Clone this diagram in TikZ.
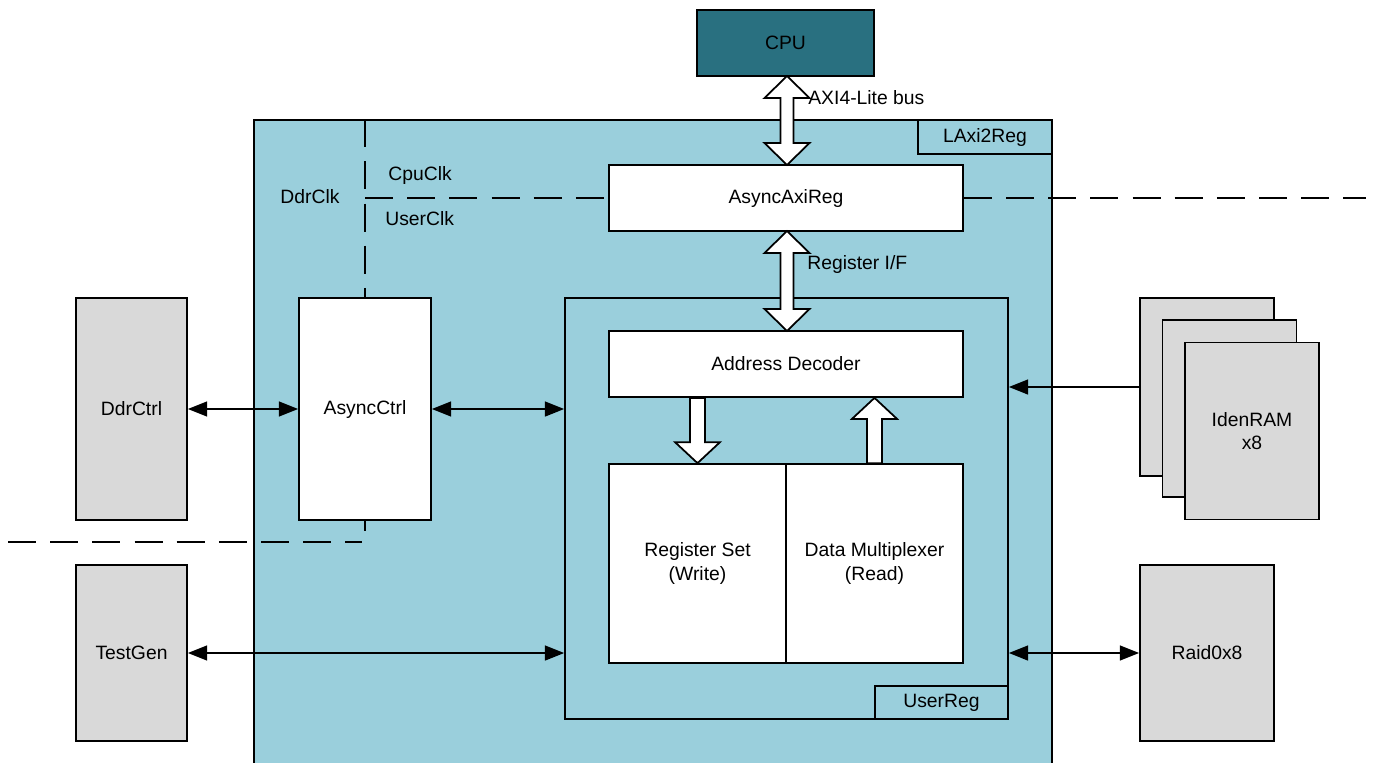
\documentclass[tikz,border=0pt]{standalone}
\usepackage{fontspec}
\setmainfont{Liberation Sans}
\usetikzlibrary{arrows.meta,calc}
\definecolor{laxiblue}{RGB}{154,207,220}
\definecolor{cputeal}{RGB}{41,112,128}
\definecolor{extgray}{RGB}{217,217,217}
\newcommand{\txt}{\fontsize{11}{13.5}\selectfont}
\newcommand{\busarrow}[2]{\draw[fat] (#1) -- ++(22.5,22) -- ++(-16,0) -- ($(#2)+(6.5,-22)$) -- ++(16,0) -- (#2) -- ++(-22.5,-22) -- ++(16,0) -- ($(#1)+(-6.5,22)$) -- ++(-16,0) -- cycle;}
\newcommand{\downfat}[2]{\draw[fat] ($(#1)+(-7.5,0)$) -- ++(15,0) -- ($(#2)+(7.5,-21)$) -- ++(15,0) -- (#2) -- ++(-22.5,-21) -- ++(15,0) -- cycle;}
\newcommand{\upfat}[2]{\draw[fat] ($(#1)+(-7.5,0)$) -- ++(15,0) -- ($(#2)+(7.5,21)$) -- ++(15,0) -- (#2) -- ++(-22.5,21) -- ++(15,0) -- cycle;}
\tikzset{
	box/.style={draw=black, line width=1pt, align=center, inner sep=0pt, font=\txt},
	sz/.style 2 args={minimum width=#1, minimum height=#2},
	wbox/.style={box, fill=white},
	gbox/.style={box, fill=extgray},
	bbox/.style={box, fill=laxiblue},
	lbl/.style={font=\txt, inner sep=0pt},
	link/.style={line width=1pt, >={Triangle[length=11pt,width=8.5pt]}},
	fat/.style={draw=black, line width=1pt, fill=white, line join=miter},
	clk/.style={line width=1pt, dash pattern=on 16pt off 8pt}
}

\begin{document}
\begin{tikzpicture}[x=0.02cm, y=-0.02cm]
			\useasboundingbox (0,0) rectangle (1374,762);
			\clip (0,0) rectangle (1374,762);
			
			\node[bbox, sz={15.96cm}{13.1cm}] (laxi) at (653,447.5) {};
			\node[bbox, sz={2.68cm}{0.68cm}] (laxilbl) at (985,137) {LAxi2Reg};
			\node[box, fill=cputeal, sz={3.54cm}{1.32cm}] (cpu) at (785.5,43) {CPU};
			\node[wbox, sz={7.08cm}{1.32cm}] (axireg) at (786,198) {AsyncAxiReg};
			
			\node[gbox, sz={2.22cm}{4.44cm}] (ddrctrl) at (131.5,409) {DdrCtrl};
			\node[gbox, sz={2.22cm}{3.52cm}] (testgen) at (131.5,653) {TestGen};
			\node[wbox, sz={2.64cm}{4.44cm}] (asyncctrl) at (365,409) {AsyncCtrl};
			
			\node[bbox, sz={8.86cm}{8.42cm}] (userreg) at (786.5,508.5) {};
			\node[bbox, sz={2.66cm}{0.66cm}] (userreglbl) at (941.5,702.5) {UserReg};
			\node[wbox, sz={7.08cm}{1.32cm}] (adec) at (786,364) {Address Decoder};
			\node[wbox, sz={3.54cm}{3.98cm}] (regset) at (697.5,563.5) {Register Set\\(Write)};
			\node[wbox, sz={3.54cm}{3.98cm}] (datamux) at (874.5,563.5) {Data Multiplexer\\(Read)};
			
			\node[gbox, sz={2.68cm}{3.56cm}] (idenback) at (1207,387) {};
			\node[gbox, sz={2.68cm}{3.54cm}] (idenmid) at (1229.5,408.5) {};
			\node[gbox, sz={2.68cm}{3.54cm}] (idenram) at (1252,431) {IdenRAM\\x8};
			\node[gbox, sz={2.68cm}{3.52cm}] (raid) at (1207,653) {Raid0x8};
			
			\node[lbl] (ddrclk) at (310,197) {DdrClk};
			\node[lbl, anchor=west] (cpuclk) at (388,175) {CpuClk};
			\node[lbl, anchor=west] (userclk) at (385,219) {UserClk};
			\node[lbl, anchor=west] (axilbl) at (808,98) {AXI4-Lite bus};
			\node[lbl, anchor=west] (reglbl) at (807,264) {Register I/F};
			
			\coordinate (clktop) at (asyncctrl.north |- laxi.north);
			\coordinate (clkcross) at (asyncctrl.north |- axireg.west);
			\coordinate (clkright) at (1366,198);
			\coordinate (clkbot) at (365,531);
			\coordinate (ddrleft) at (8,542);
			\coordinate (ddrright) at (362,542);
			\draw[clk] (clktop) -- (asyncctrl.north);
			\draw[clk] (asyncctrl.south) -- (clkbot);
			\draw[clk] (clkcross) -- (axireg.west);
			\draw[clk] (axireg.east) -- (clkright);
			\draw[clk] (ddrleft) -- (ddrright);
			
			\draw[link, <->] (ddrctrl.east) -- (asyncctrl.west);
			\draw[link, <->] (asyncctrl.east) -- (asyncctrl.east -| userreg.west);
			\draw[link, <->] (testgen.east) -- (testgen.east -| userreg.west);
			\draw[link, ->] (idenback.west) -- (idenback.west -| userreg.east);
			\draw[link, <->] (raid.west -| userreg.east) -- (raid.west);
			
			\coordinate (axitop) at (787,76);
			\coordinate (axibot) at (787,165);
			\coordinate (regtop) at (787,231);
			\coordinate (regbot) at (787,331);
			\coordinate (wrtop) at (regset.north |- adec.south);
			\coordinate (rdtop) at (datamux.north |- adec.south);
			\busarrow{axitop}{axibot}
			\busarrow{regtop}{regbot}
			\downfat{wrtop}{regset.north}
			\upfat{datamux.north}{rdtop}
		\end{tikzpicture}
\end{document}
